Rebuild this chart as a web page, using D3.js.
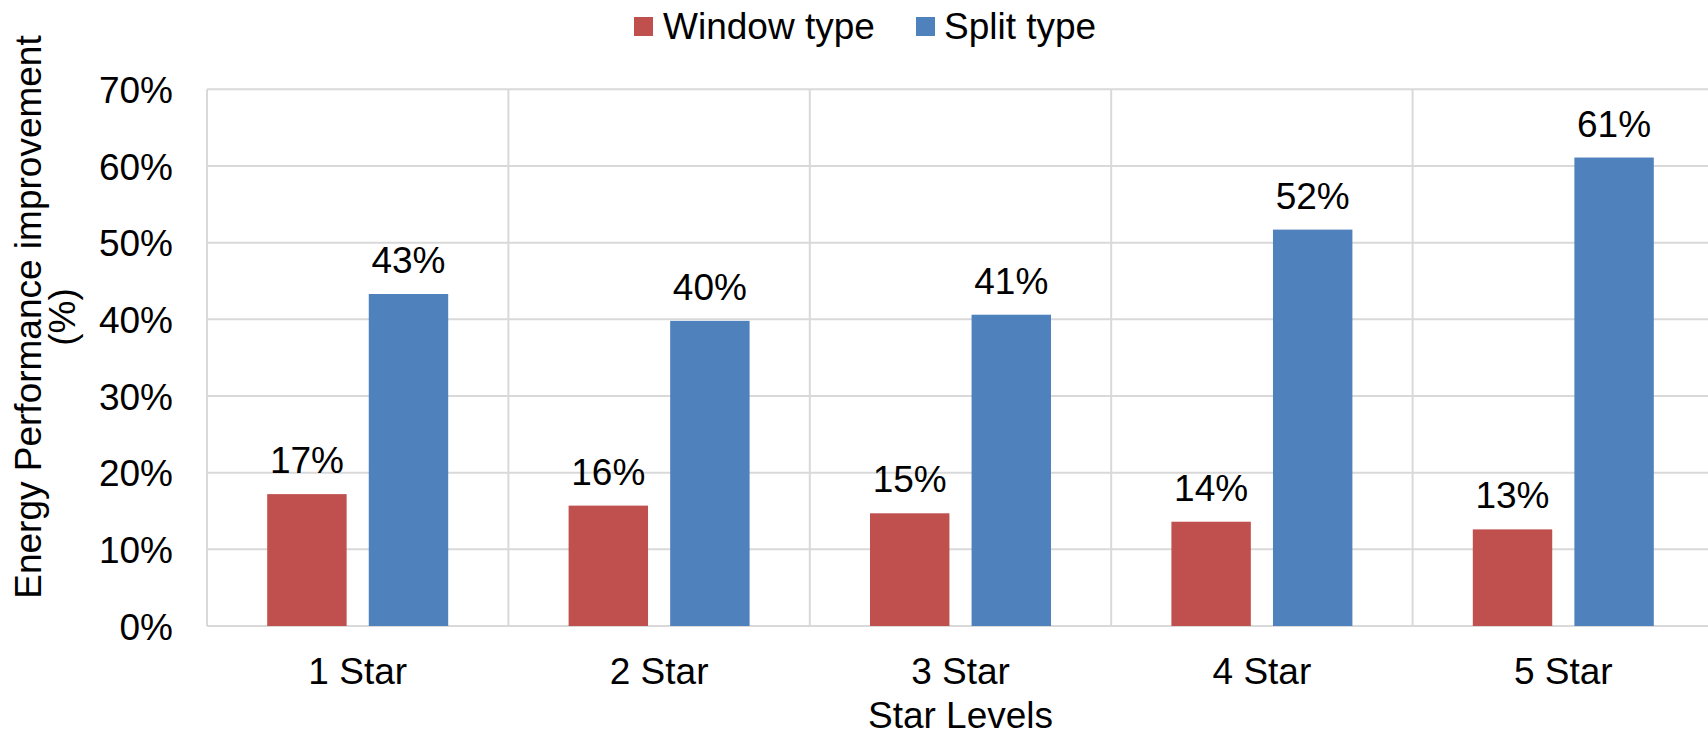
<!DOCTYPE html>
<html>
<head>
<meta charset="utf-8">
<script src="https://cdnjs.cloudflare.com/ajax/libs/d3/7.8.5/d3.min.js"></script>
<style>
  html, body { margin: 0; padding: 0; background: #fff; }
  svg { display: block; font-family: "Liberation Sans", Arial, sans-serif; }
</style>
</head>
<body>
<svg id="chart" width="1708" height="736"></svg>
<script>
// Star levels on the x axis
const categories = ["1 Star", "2 Star", "3 Star", "4 Star", "5 Star"];
// Series names, in legend order
const seriesNames = ["Window type", "Split type"];
// Energy performance improvement (fraction) per star level
const windowType = [0.172, 0.157, 0.147, 0.136, 0.126];
const splitType  = [0.433, 0.398, 0.406, 0.517, 0.611];
// Y axis ticks
const yTicks = [0, 0.1, 0.2, 0.3, 0.4, 0.5, 0.6, 0.7];

const colors = { "Window type": "#C0504D", "Split type": "#4F81BD" };
const seriesValues = { "Window type": windowType, "Split type": splitType };

const svg = d3.select("#chart");
const plot = { left: 207, right: 1714, top: 89.3, bottom: 626 };
const fontSize = 37;
const grid = "#d9d9d9";

const x = d3.scaleBand().domain(categories).range([plot.left, plot.right]).padding(0);
const xs = d3.scaleBand().domain(seriesNames).range([-90.5, 90.5]).paddingInner(0.218).paddingOuter(0);
const y = d3.scaleLinear().domain([0, 0.7]).range([plot.bottom, plot.top]);
const pct = d3.format(".0%");

// horizontal gridlines
svg.append("g").selectAll("line").data(yTicks).join("line")
  .attr("x1", plot.left).attr("x2", plot.right)
  .attr("y1", d => y(d)).attr("y2", d => y(d))
  .attr("stroke", grid).attr("stroke-width", 2);

// vertical category separators
const bounds = categories.map(c => x(c)).concat([x(categories[categories.length - 1]) + x.bandwidth()]);
svg.append("g").selectAll("line").data(bounds).join("line")
  .attr("x1", d => d).attr("x2", d => d)
  .attr("y1", plot.top).attr("y2", plot.bottom)
  .attr("stroke", grid).attr("stroke-width", 2);

// y axis tick labels
const yAxis = d3.axisLeft(y).tickValues(yTicks).tickFormat(pct).tickSize(0).tickPadding(34);
const yg = svg.append("g").attr("transform", `translate(${plot.left},0)`).call(yAxis);
yg.select(".domain").remove();
yg.selectAll("text").attr("font-size", fontSize).attr("fill", "#000")
  .attr("font-family", "Liberation Sans, Arial, sans-serif").attr("dy", "0.36em");

// x axis category labels
const xAxis = d3.axisBottom(x).tickSize(0).tickPadding(0);
const xg = svg.append("g").attr("transform", `translate(0,${plot.bottom})`).call(xAxis);
xg.select(".domain").remove();
xg.selectAll("text").attr("font-size", fontSize).attr("fill", "#000")
  .attr("font-family", "Liberation Sans, Arial, sans-serif").attr("dy", 58);

// bars and value labels
const rows = [];
categories.forEach((c, i) => seriesNames.forEach(s => rows.push({ cat: c, series: s, value: seriesValues[s][i] })));

const bars = svg.append("g");
bars.selectAll("rect").data(rows).join("rect")
  .attr("x", d => x(d.cat) + x.bandwidth() / 2 + xs(d.series))
  .attr("width", xs.bandwidth())
  .attr("y", d => y(d.value))
  .attr("height", d => y(0) - y(d.value))
  .attr("fill", d => colors[d.series]);

bars.selectAll("text").data(rows).join("text")
  .attr("x", d => x(d.cat) + x.bandwidth() / 2 + xs(d.series) + xs.bandwidth() / 2)
  .attr("y", d => y(d.value) - 21)
  .attr("text-anchor", "middle")
  .attr("font-size", fontSize)
  .attr("fill", "#000")
  .text(d => pct(d.value));

// x axis title
svg.append("text")
  .attr("x", (plot.left + plot.right) / 2)
  .attr("y", 728)
  .attr("text-anchor", "middle")
  .attr("font-size", fontSize)
  .text("Star Levels");

// y axis title (two lines, rotated)
const yTitle = svg.append("text")
  .attr("transform", "translate(0,317) rotate(-90)")
  .attr("text-anchor", "middle")
  .attr("font-size", fontSize);
yTitle.append("tspan").attr("x", 0).attr("y", 41).text("Energy Performance improvement");
yTitle.append("tspan").attr("x", 0).attr("y", 75).text("(%)");

// legend
const legendItems = [
  { name: "Window type", sx: 634, tx: 663 },
  { name: "Split type", sx: 916, tx: 944 }
];
const lg = svg.append("g");
lg.selectAll("rect").data(legendItems).join("rect")
  .attr("x", d => d.sx).attr("y", 17).attr("width", 19).attr("height", 19)
  .attr("fill", d => colors[d.name]);
lg.selectAll("text").data(legendItems).join("text")
  .attr("x", d => d.tx).attr("y", 39)
  .attr("font-size", fontSize)
  .text(d => d.name);
</script>
</body>
</html>
